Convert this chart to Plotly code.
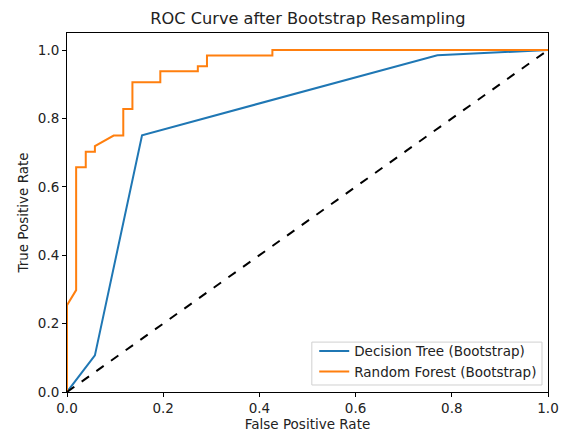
import plotly.graph_objects as go

dt_fpr = [0.0, 0.058, 0.156, 0.770, 1.0]
dt_tpr = [0.0, 0.107, 0.751, 0.985, 1.0]

rf_fpr = [0.0, 0.0, 0.019, 0.019, 0.039, 0.039, 0.058, 0.058, 0.097, 0.117, 0.117,
          0.136, 0.136, 0.194, 0.194, 0.272, 0.272, 0.291, 0.291, 0.427, 0.427, 1.0]
rf_tpr = [0.0, 0.254, 0.298, 0.657, 0.657, 0.703, 0.703, 0.719, 0.750, 0.750, 0.828,
          0.828, 0.906, 0.906, 0.938, 0.938, 0.953, 0.953, 0.984, 0.984, 1.0, 1.0]

diag = [0.0, 1.0]

font = "DejaVu Sans"
fs = 13.5

fig = go.Figure()
fig.add_trace(go.Scatter(x=dt_fpr, y=dt_tpr, mode="lines", name="Decision Tree (Bootstrap)",
                         line=dict(color="#1f77b4", width=2)))
fig.add_trace(go.Scatter(x=rf_fpr, y=rf_tpr, mode="lines", name="Random Forest (Bootstrap)",
                         line=dict(color="#ff7f0e", width=2)))
fig.add_trace(go.Scatter(x=diag, y=diag, mode="lines", showlegend=False,
                         line=dict(color="black", width=2, dash="dash")))

axis_common = dict(showline=True, linecolor="black", linewidth=1, mirror=True,
                   ticks="outside", ticklen=4, tickcolor="black", showgrid=False,
                   zeroline=False, tickformat=".1f", dtick=0.2, tick0=0, automargin=False,
                   tickfont=dict(family=font, size=fs, color="#222"))

fig.add_shape(type="rect", xref="paper", yref="paper", x0=0.509, x1=0.9875, y0=0.0195, y1=0.139,
              line=dict(color="#d0d0d0", width=1), fillcolor="rgba(255,255,255,0.85)", layer="above")

fig.update_layout(
    width=568, height=434,
    margin=dict(l=67, r=20, t=33, b=42),
    paper_bgcolor="white", plot_bgcolor="white",
    font=dict(family=font, size=fs, color="#222"),
    title=dict(text="ROC Curve after Bootstrap Resampling", x=0.542, xanchor="center",
               y=0.958, yanchor="middle", font=dict(family=font, size=16.2, color="#222")),
    xaxis=dict(range=[0, 1], title=dict(text="False Positive Rate", standoff=2,
                                       font=dict(family=font, size=fs)), **axis_common),
    yaxis=dict(range=[0, 1.05], title=dict(text="True Positive Rate", standoff=6,
                                          font=dict(family=font, size=fs)), **axis_common),
    legend=dict(x=0.988, xanchor="right", y=0.012, yanchor="bottom",
                bgcolor="rgba(0,0,0,0)", borderwidth=0,
                itemwidth=30, tracegroupgap=0,
                font=dict(family=font, size=fs, color="#222")),
)

fig.write_html("out.html")
